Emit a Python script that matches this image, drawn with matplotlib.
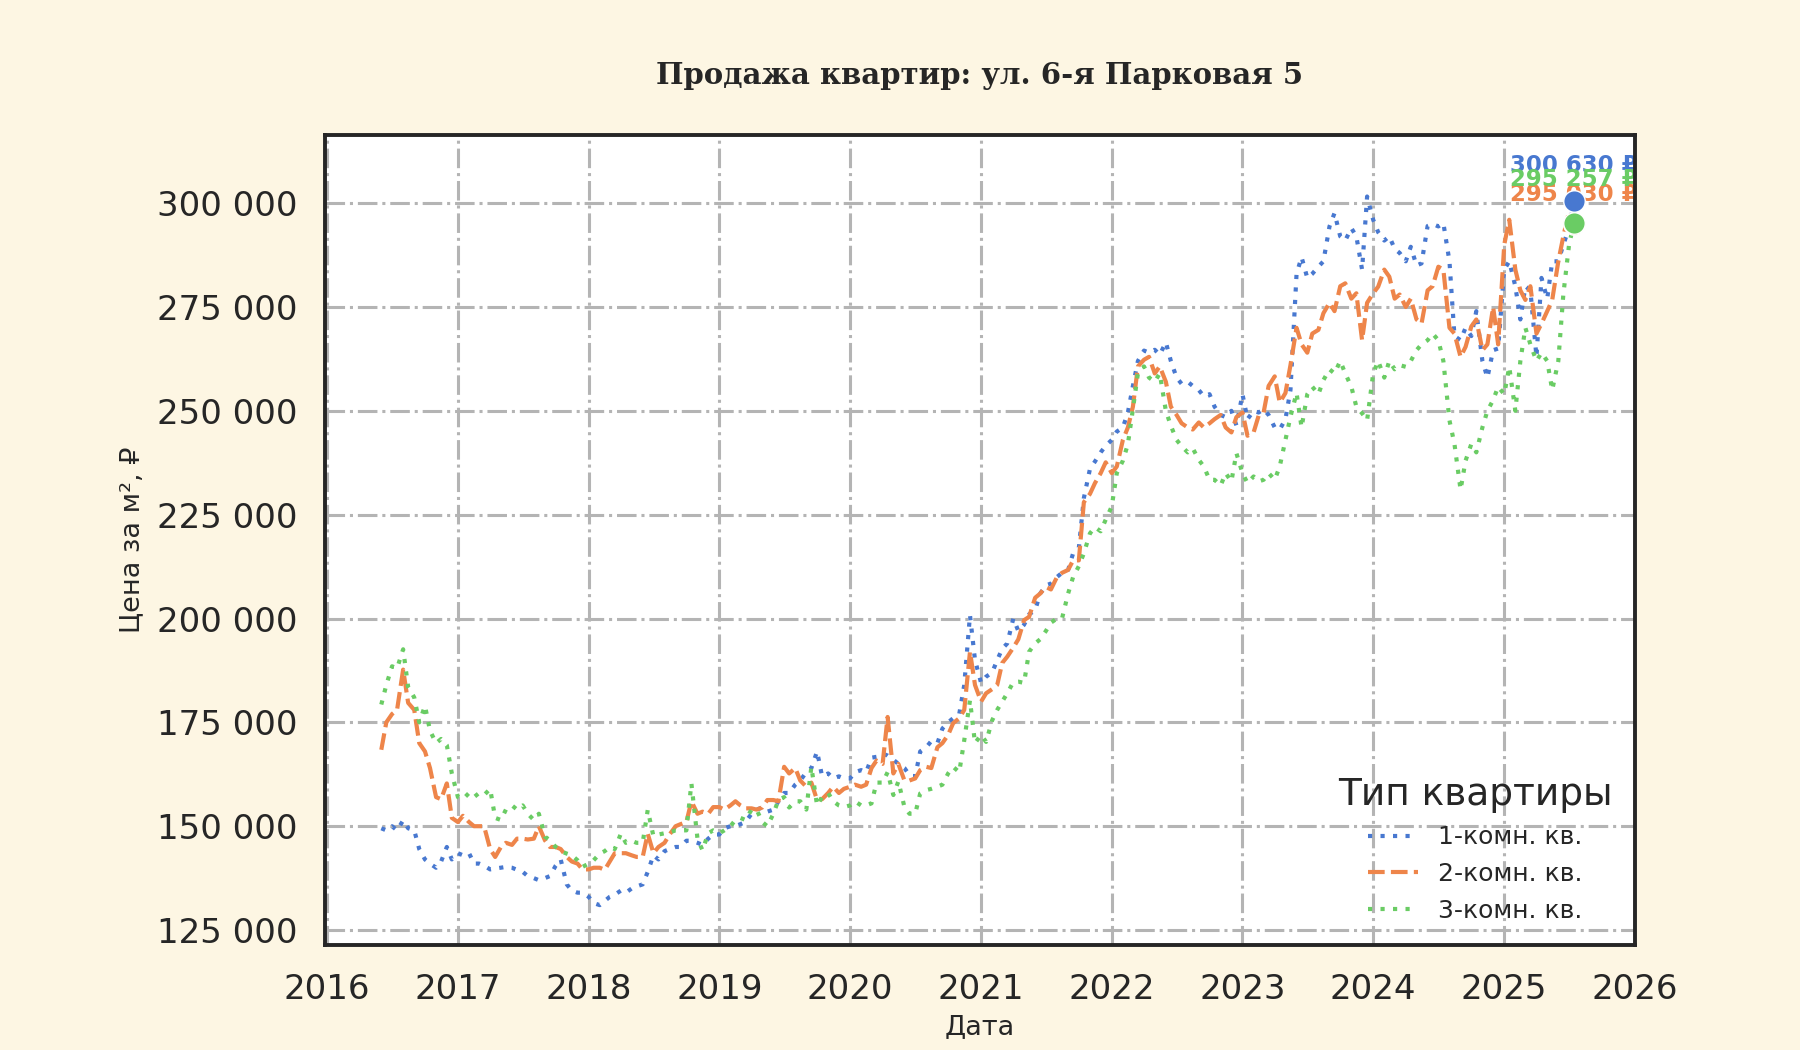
import matplotlib
matplotlib.use('Agg')
import matplotlib.pyplot as plt
import matplotlib.dates as mdates
from matplotlib.ticker import FuncFormatter
import pandas as pd

# ---------------- data (thousand RUB per m², semi-monthly) ----------------
start_date = '2016-06-01'

one_room = [
    # 2016
    149.5, 149.0, 150.0, 149.0, 151.4, 149.5, 149.0, 144.5, 142.0, 141.0, 140.0, 141.5, 145.0, 142.0,
    # 2017
    143.5, 143.0, 143.5, 141.0, 141.0, 140.5, 139.6, 139.8, 140.0, 140.2, 140.0, 139.5,
    139.0, 138.0, 137.5, 137.0, 137.5, 138.0, 140.5, 142.0, 136.0, 134.5, 134.0, 134.0,
    # 2018
    133.0, 131.5, 131.0, 132.0, 133.0, 133.5, 134.5, 134.0, 135.0, 135.5, 136.0, 139.0,
    143.0, 142.0, 144.0, 144.5, 145.0, 145.0, 146.5, 146.5, 146.0, 145.5, 147.0, 148.0,
    # 2019
    148.0, 149.5, 150.0, 150.0, 150.5, 151.0, 153.0, 154.0, 154.5, 153.5, 154.0, 156.0,
    158.0, 158.0, 160.0, 161.0, 163.0, 164.0, 168.0, 162.0, 162.7, 161.5, 162.0, 161.5,
    # 2020
    161.5, 163.0, 163.5, 163.0, 166.5, 166.7, 167.5, 167.0, 166.0, 165.0, 164.0, 162.3,
    162.0, 168.0, 169.0, 170.5, 170.0, 173.5, 175.0, 176.0, 177.0, 184.0, 200.8, 190.0,
    # 2021
    184.5, 186.0, 187.0, 190.0, 192.7, 194.0, 200.0, 197.0, 198.5, 201.0, 202.0, 206.0,
    208.0, 208.4, 210.0, 211.0, 211.7, 215.7, 217.0, 229.0, 236.0, 237.8, 240.0, 241.6,
    # 2022
    243.0, 245.0, 246.0, 249.6, 256.0, 262.0, 264.5, 264.0, 264.7, 263.5, 266.5, 262.0,
    258.0, 256.5, 257.0, 256.0, 255.0, 253.5, 254.0, 251.0, 249.0, 248.5, 250.0, 246.5,
    # 2023
    254.0, 248.0, 250.0, 249.6, 250.4, 249.0, 246.0, 245.5, 248.0, 255.0, 283.0, 287.0,
    282.0, 283.0, 284.7, 286.0, 294.4, 297.6, 292.0, 291.0, 294.0, 292.0, 284.0, 301.6,
    # 2024
    296.0, 293.0, 291.0, 292.0, 289.0, 288.0, 286.0, 289.5, 285.0, 285.5, 294.5, 295.0,
    294.4, 295.2, 286.0, 268.0, 267.0, 270.0, 268.0, 274.0, 262.0, 258.0, 264.6, 265.0,
    # 2025
    284.0, 286.0, 280.0, 272.0, 280.0, 279.0, 263.0, 282.0, 277.0, 286.0, 286.0, 290.0, 294.0, 300.63,
]

two_room = [
    # 2016
    168.4, 175.0, 177.0, 178.0, 187.7, 179.7, 178.0, 170.0, 168.0, 164.0, 157.0, 156.5, 160.3, 152.0,
    # 2017
    151.0, 152.5, 151.0, 150.0, 150.0, 150.0, 144.5, 142.6, 145.0, 146.0, 145.5, 147.0,
    147.0, 146.8, 147.0, 150.0, 146.6, 145.0, 145.0, 144.5, 142.6, 141.5, 141.0, 139.6,
    # 2018
    139.6, 140.0, 140.0, 139.5, 141.5, 143.5, 143.5, 143.5, 143.0, 142.6, 142.6, 148.2,
    143.5, 145.0, 146.0, 148.0, 150.0, 150.5, 151.0, 156.0, 153.0, 153.5, 153.0, 154.6,
    # 2019
    154.6, 154.0, 155.0, 156.0, 155.0, 154.3, 154.3, 154.0, 154.5, 156.3, 156.3, 156.0,
    164.3, 162.7, 164.0, 161.0, 159.5, 160.5, 156.3, 156.5, 158.0, 159.5, 158.0, 159.0,
    # 2020
    159.5, 160.0, 159.5, 160.0, 164.0, 165.8, 165.0, 176.3, 162.7, 165.0, 161.0, 161.0,
    161.5, 163.5, 164.3, 164.0, 169.0, 170.0, 172.0, 174.8, 176.0, 178.0, 192.0, 184.0,
    # 2021
    180.0, 182.0, 183.0, 184.0, 189.3, 190.8, 193.0, 195.0, 199.6, 200.4, 205.0, 206.0,
    207.6, 207.0, 210.0, 211.0, 211.7, 214.0, 214.0, 228.0, 230.0, 232.6, 235.0, 237.6,
    # 2022
    235.0, 236.6, 243.0, 246.0, 251.0, 260.7, 262.3, 263.0, 259.0, 260.7, 257.0, 251.0,
    249.0, 247.0, 246.0, 245.5, 247.2, 246.0, 247.0, 248.0, 249.0, 246.0, 244.8, 248.5,
    # 2023
    249.6, 244.0, 244.8, 248.8, 249.6, 256.0, 258.3, 252.0, 254.3, 261.0, 270.0, 266.0,
    264.0, 268.6, 269.5, 273.5, 276.0, 274.0, 280.0, 280.7, 277.0, 278.3, 267.0, 276.0,
    # 2024
    278.3, 279.9, 284.0, 282.3, 277.0, 278.0, 275.0, 277.0, 272.0, 271.0, 279.0, 280.0,
    284.7, 284.0, 270.0, 268.6, 263.0, 265.4, 270.3, 272.0, 264.6, 266.0, 275.0, 266.0,
    # 2025
    290.0, 296.0, 284.0, 279.0, 276.7, 280.0, 268.6, 271.0, 274.0, 276.7, 286.0, 292.0, 298.0, 295.03,
]

three_room = [
    # 2016
    179.3, 184.0, 188.5, 188.0, 192.6, 183.5, 181.0, 175.0, 179.0, 173.0, 170.0, 171.0, 169.5, 162.7,
    # 2017
    157.0, 156.5, 158.0, 157.0, 158.0, 157.5, 159.0, 152.0, 151.5, 154.0, 155.0, 154.0,
    155.0, 153.0, 151.5, 153.0, 147.5, 146.6, 145.0, 144.0, 143.4, 143.0, 141.8, 140.2,
    # 2018
    141.0, 141.8, 143.4, 144.0, 145.0, 144.5, 148.2, 146.0, 146.5, 146.0, 146.0, 153.9,
    147.6, 148.0, 148.3, 148.5, 149.0, 149.0, 149.0, 160.3, 147.0, 144.2, 148.3, 149.0,
    # 2019
    148.3, 149.0, 150.0, 151.5, 152.0, 151.5, 154.0, 154.0, 151.0, 150.0, 153.0, 156.3,
    157.0, 154.5, 156.0, 156.0, 154.0, 164.3, 155.0, 157.0, 158.0, 156.0, 155.0, 154.6,
    # 2020
    155.0, 156.0, 155.0, 155.0, 155.5, 160.5, 160.5, 163.0, 157.5, 160.8, 154.6, 153.0,
    153.0, 157.9, 158.7, 159.0, 159.5, 160.0, 162.7, 164.3, 163.0, 170.7, 180.3, 170.0,
    # 2021
    172.0, 170.3, 175.5, 178.0, 180.0, 182.0, 184.7, 184.8, 184.5, 192.0, 194.0, 195.0,
    197.0, 199.0, 200.0, 200.0, 206.0, 210.0, 212.6, 215.7, 220.5, 222.0, 221.0, 223.8,
    # 2022
    227.0, 235.0, 238.0, 242.0, 250.4, 259.0, 260.7, 258.0, 257.0, 259.0, 250.0, 246.4,
    243.0, 241.5, 240.0, 241.0, 238.2, 236.6, 233.4, 233.4, 232.0, 235.0, 233.0, 239.8,
    # 2023
    235.0, 232.6, 234.2, 233.0, 233.4, 235.0, 233.4, 236.6, 243.0, 248.6, 254.3, 246.0,
    254.0, 255.8, 254.0, 257.4, 260.0, 259.0, 262.0, 259.0, 255.8, 251.0, 249.4, 247.7,
    # 2024
    259.0, 262.0, 258.0, 262.0, 260.0, 261.0, 260.6, 262.0, 264.6, 266.0, 267.0, 268.6,
    267.0, 262.0, 247.7, 242.0, 231.0, 238.0, 242.0, 240.0, 246.0, 250.0, 252.6, 255.8,
    # 2025
    254.0, 260.6, 250.0, 262.0, 270.0, 266.0, 262.0, 264.0, 262.0, 255.0, 262.0, 278.0, 290.0, 295.257,
]

series_names = ['1-комн. кв.', '2-комн. кв.', '3-комн. кв.']
last_labels = ['300 630 ₽', '295 030 ₽', '295 257 ₽']
y_ticks = [125000, 150000, 175000, 200000, 225000, 250000, 275000, 300000]

title_text = 'Продажа квартир: ул. 6-я Парковая 5'
x_label = 'Дата'
y_label = 'Цена за м², ₽'
legend_title = 'Тип квартиры'

# ---------------- styling ----------------
colors = ['#4878d0', '#ee854a', '#6acc64']
styles = [(0, (1, 2.0)), (0, (4, 1.5)), (0, (1, 2.0))]
label_offsets = [25, 21, 31]   # points above the end dot
text_color = '#262626'
bg = '#fdf6e3'

plt.rcParams['font.family'] = ['DejaVu Sans']

dates = pd.date_range(start_date, periods=len(one_room), freq='SMS')
all_series = [one_room, two_room, three_room]

fig = plt.figure(figsize=(18, 10.5), dpi=100, facecolor=bg)
ax = fig.add_axes([0.1806, 0.1, 0.7277, 0.771])
ax.set_facecolor('white')

for vals, name, c, ls in zip(all_series, series_names, colors, styles):
    y = [v * 1000 for v in vals]
    ax.plot(dates, y, color=c, linestyle=ls, linewidth=3.0, label=name, zorder=3)

# end labels (drawn under the dots)
for i in [0, 1, 2]:
    yv = all_series[i][-1] * 1000
    ax.annotate(last_labels[i], (dates[-1], yv), xytext=(0, label_offsets[i]),
                textcoords='offset points', ha='center', va='center',
                fontsize=16.5, fontweight='bold', color=colors[i], zorder=2.5,
                annotation_clip=False)
for i in [0, 1, 2]:
    yv = all_series[i][-1] * 1000
    ax.scatter([dates[-1]], [yv], s=240, color=colors[i], edgecolors='white',
               linewidths=1, zorder=5)

ax.grid(True, color='#b4b4b4', linestyle='-.', linewidth=2.2)
ax.set_axisbelow(True)

ax.set_xlim(pd.Timestamp('2015-12-27'), pd.Timestamp('2026-01-01'))
ax.set_ylim(121400, 316300)
ax.set_yticks(y_ticks)
ax.yaxis.set_major_formatter(FuncFormatter(lambda v, p: f'{int(v):,}'.replace(',', ' ')))
ax.xaxis.set_major_locator(mdates.YearLocator())
ax.xaxis.set_major_formatter(mdates.DateFormatter('%Y'))

ax.tick_params(axis='both', length=0, labelsize=24.5, pad=20, labelcolor=text_color)
for s in ax.spines.values():
    s.set_linewidth(2.8)
    s.set_color(text_color)

ax.set_title(title_text, fontfamily='DejaVu Serif', fontweight='bold',
             fontsize=21, pad=37, color=text_color)
ax.set_xlabel(x_label, fontsize=19.5, labelpad=6, color=text_color)
ax.set_ylabel(y_label, fontsize=19.5, labelpad=8, color=text_color)

leg = ax.legend(title=legend_title, loc='lower right', frameon=False,
                fontsize=18, title_fontsize=27)
for t in leg.get_texts():
    t.set_color(text_color)
leg.get_title().set_color(text_color)

fig.savefig('out.png', dpi=100, facecolor=bg)
